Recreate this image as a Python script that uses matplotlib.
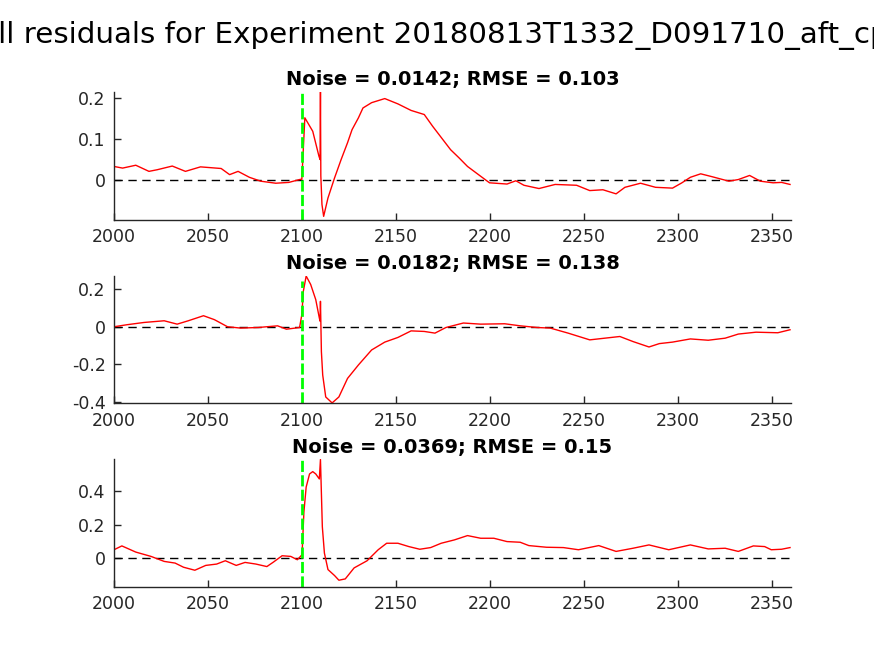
import matplotlib
matplotlib.use('Agg')
import matplotlib.pyplot as plt

# residual traces (time, residual)
t1 = [2000, 2004.6, 2011.6, 2018.6, 2023, 2031, 2038, 2046, 2057, 2061.5, 2066, 2072, 2078, 2086, 2093,
      2098.7, 2099.9, 2101.5, 2105.7, 2109, 2109.6, 2109.8, 2110.0, 2110.6, 2111.5, 2113.8, 2117.3,
      2120.8, 2124.2, 2126.6, 2130, 2132.4, 2137, 2144, 2151, 2158, 2165, 2169.5, 2174, 2179, 2183.5,
      2188, 2195, 2199.7, 2209, 2213.7, 2218, 2226, 2234.6, 2246, 2253, 2260, 2267, 2271.7, 2280,
      2288, 2297, 2302, 2306.5, 2312, 2318, 2327, 2332, 2338, 2343.7, 2350.5, 2355, 2359.5]
r1 = [0.033, 0.029, 0.036, 0.021, 0.025, 0.034, 0.021, 0.032, 0.028, 0.013, 0.021, 0.0065, -0.003,
      -0.008, -0.006, 0.001, 0.002, 0.152, 0.119, 0.058, 0.050, 0.215, 0.010, -0.060, -0.089, -0.044,
      0.005, 0.050, 0.091, 0.123, 0.152, 0.176, 0.189, 0.199, 0.186, 0.170, 0.160, 0.131, 0.104, 0.074,
      0.054, 0.033, 0.009, -0.007, -0.010, -0.002, -0.013, -0.021, -0.011, -0.013, -0.026, -0.024,
      -0.034, -0.018, -0.008, -0.018, -0.020, -0.007, 0.0065, 0.015, 0.008, -0.003, 0.001, 0.011,
      -0.003, -0.007, -0.006, -0.011]

t2 = [2000, 2007, 2016, 2026.7, 2033.6, 2039.5, 2047.6, 2053.4, 2060.4, 2067.3, 2076.6, 2087, 2091.7,
      2098.7, 2099.9, 2100.7, 2102.2, 2104.6, 2107.3, 2109.2, 2109.6, 2109.8, 2110.3, 2111, 2112.6,
      2116, 2119.6, 2124.2, 2130, 2137, 2144, 2151, 2158, 2165, 2170.7, 2176.5, 2185.8, 2195, 2207.8,
      2216, 2225, 2232, 2241.5, 2253, 2261, 2269, 2276, 2284.5, 2290, 2297, 2306.5, 2316, 2325, 2332,
      2341.4, 2353, 2359.5]
r2 = [0.0, 0.011, 0.023, 0.032, 0.014, 0.032, 0.059, 0.038, 0.0, -0.007, -0.004, 0.005, -0.013,
      -0.004, 0.065, 0.190, 0.271, 0.226, 0.145, 0.047, 0.030, 0.136, -0.133, -0.258, -0.375, -0.407,
      -0.375, -0.276, -0.204, -0.124, -0.082, -0.057, -0.022, -0.025, -0.034, -0.004, 0.020, 0.014,
      0.016, 0.005, -0.004, -0.007, -0.034, -0.070, -0.061, -0.052, -0.079, -0.108, -0.090, -0.082,
      -0.065, -0.072, -0.061, -0.039, -0.029, -0.032, -0.016]

t3 = [2000, 2004.2, 2011.6, 2019.7, 2026.7, 2032.5, 2037, 2043, 2048.8, 2054.6, 2059.2, 2065, 2069.7,
      2075.5, 2081.3, 2084.8, 2089.4, 2094, 2097.5, 2100, 2101, 2102.2, 2104, 2105.7, 2107.3, 2109.2,
      2109.8, 2110.8, 2111.9, 2113.8, 2117.3, 2119.6, 2123, 2127.7, 2134.6, 2140.5, 2145, 2151, 2156.8,
      2162.6, 2168.4, 2174, 2181, 2188, 2195, 2202, 2209, 2216, 2220.6, 2230, 2239, 2247, 2257.8, 2267,
      2276, 2284.5, 2295, 2306.5, 2316, 2325, 2332, 2340, 2346, 2349.5, 2355, 2359.5]
r3 = [0.050, 0.073, 0.036, 0.010, -0.020, -0.030, -0.055, -0.073, -0.044, -0.036, -0.016, -0.044,
      -0.026, -0.036, -0.051, -0.024, 0.014, 0.010, -0.010, 0.020, 0.277, 0.426, 0.505, 0.519, 0.505,
      0.475, 0.592, 0.188, 0.030, -0.069, -0.105, -0.133, -0.125, -0.059, -0.016, 0.050, 0.089, 0.089,
      0.069, 0.053, 0.063, 0.089, 0.109, 0.135, 0.119, 0.119, 0.099, 0.095, 0.075, 0.065, 0.063, 0.050,
      0.075, 0.040, 0.059, 0.079, 0.050, 0.079, 0.055, 0.059, 0.040, 0.073, 0.069, 0.050, 0.053, 0.063]

titles = ['Noise = 0.0142; RMSE = 0.103', 'Noise = 0.0182; RMSE = 0.138', 'Noise = 0.0369; RMSE = 0.15']
ylims = [(-0.098, 0.215), (-0.409, 0.271), (-0.172, 0.592)]
yticks = [[0, 0.1, 0.2], [-0.4, -0.2, 0, 0.2], [0, 0.2, 0.4]]
ytl = [['0', '0.1', '0.2'], ['-0.4', '-0.2', '0', '0.2'], ['0', '0.2', '0.4']]
green_top = [0.215, 0.245, 0.592]
t_event = 2100
xlim = (2000, 2360)
xticks = [2000, 2050, 2100, 2150, 2200, 2250, 2300, 2350]

series = [(t1, r1), (t2, r2), (t3, r3)]
bottoms = [0.6646, 0.3852, 0.1056]
heights = [0.1951, 0.194, 0.194]

tc = '#262626'
fig = plt.figure(figsize=(8.74, 6.56), dpi=100)
for k in range(3):
    ax = fig.add_axes([0.1304, bottoms[k], 0.7746, heights[k]])
    t, r = series[k]
    ax.plot(xlim, [0, 0], '--', color='k', lw=1.0, dashes=(6, 4))
    ax.plot(t, r, '-', color='red', lw=1.0)
    ax.plot([t_event, t_event], [ylims[k][0], green_top[k]], '--', color='#00ff00', lw=2.0, dashes=(4, 1.2))
    ax.set_xlim(xlim); ax.set_ylim(ylims[k])
    ax.set_xticks(xticks); ax.set_yticks(yticks[k]); ax.set_yticklabels(ytl[k])
    for s in ('top', 'right'):
        ax.spines[s].set_visible(False)
    for s in ('left', 'bottom'):
        ax.spines[s].set_color(tc); ax.spines[s].set_linewidth(1.0)
    ax.tick_params(direction='in', length=5, width=1.0, colors=tc, labelsize=12.5, pad=6)
    ax.set_title(titles[k], fontsize=14, fontweight='bold', color='k', pad=5)

# wide title, clipped at both edges as in the original figure
fig.text(0.5115, 0.946, 'All residuals for Experiment 20180813T1332_D091710_aft_cpl1',
         ha='center', va='center', fontsize=21.2, color='k')
fig.savefig('out.png', dpi=100)
